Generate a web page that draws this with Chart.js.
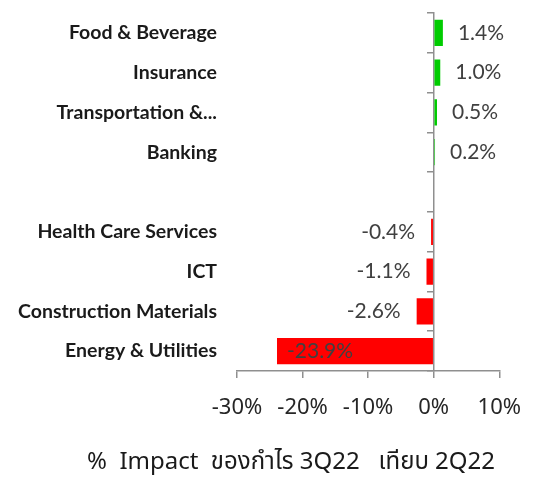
<!DOCTYPE html>
<html lang="th">
<head>
    <meta charset="UTF-8">
    <title>% Impact ของกำไร 3Q22 เทียบ 2Q22</title>
    <script src="https://cdn.jsdelivr.net/npm/chart.js"></script>
    <style>
        html, body {
            margin: 0;
            padding: 0;
            background: #ffffff;
        }
        #wrap {
            width: 538px;
            height: 484px;
        }
    </style>
</head>
<body>
    <div id="wrap"><canvas id="chart" width="538" height="484"></canvas></div>

    <script>
        // data
        const sectors = ['Food & Beverage', 'Insurance', 'Transportation &...', 'Banking', '',
                         'Health Care Services', 'ICT', 'Construction Materials', 'Energy & Utilities'];
        const impact = [1.4, 1.0, 0.5, 0.2, null, -0.4, -1.1, -2.6, -23.9];
        const xMin = -30;
        const xMax = 10;
        const xStep = 10;
        const chartTitle = '%  Impact  ของกำไร 3Q22   เทียบ 2Q22';

        const axisGray = '#8f8f8f';

        // value labels at the bar ends (Excel "outside end")
        const valueLabels = {
            id: 'valueLabels',
            afterDatasetsDraw(chart) {
                const ctx = chart.ctx;
                const area = chart.chartArea;
                const meta = chart.getDatasetMeta(0);
                ctx.save();
                ctx.font = '21px Lato';
                ctx.fillStyle = '#404040';
                ctx.textBaseline = 'middle';
                meta.data.forEach((bar, i) => {
                    const v = impact[i];
                    if (v === null) return;
                    const txt = v.toFixed(1) + '%';
                    const w = ctx.measureText(txt).width;
                    if (v >= 0) {
                        ctx.textAlign = 'left';
                        ctx.fillText(txt, bar.x + 15, bar.y);
                    } else if (bar.x - 16 - w > area.left) {
                        ctx.textAlign = 'right';
                        ctx.fillText(txt, bar.x - 16, bar.y);
                    } else {
                        // no room outside, goes inside the bar
                        ctx.textAlign = 'left';
                        ctx.fillText(txt, bar.x + 10, bar.y);
                    }
                });
                ctx.restore();
            }
        };

        // axis caption under the chart, a bit right of the canvas centre like the original
        const bottomCaption = {
            id: 'bottomCaption',
            afterDraw(chart) {
                const ctx = chart.ctx;
                ctx.save();
                ctx.font = "24px 'Noto Sans Thai', 'Noto Sans', 'DejaVu Sans', sans-serif";
                ctx.fillStyle = '#1a1a1a';
                ctx.textAlign = 'center';
                ctx.textBaseline = 'middle';
                ctx.fillText(chartTitle, 291, chart.chartArea.bottom + 93);
                ctx.restore();
            }
        };

        const ctx = document.getElementById('chart').getContext('2d');
        const chart = new Chart(ctx, {
            type: 'bar',
            data: {
                labels: sectors,
                datasets: [{
                    data: impact,
                    backgroundColor: impact.map(v => v >= 0 ? '#00cc00' : '#ff0000'),
                    borderWidth: 0,
                    categoryPercentage: 1,
                    barPercentage: 0.66
                }]
            },
            options: {
                indexAxis: 'y',
                responsive: false,
                animation: false,
                layout: {
                    padding: { left: 0, right: 34, top: 13, bottom: 53 }
                },
                plugins: {
                    legend: { display: false },
                    tooltip: { enabled: false }
                },
                scales: {
                    x: {
                        type: 'linear',
                        min: xMin,
                        max: xMax,
                        ticks: {
                            stepSize: xStep,
                            callback: v => v + '%',
                            color: '#262626',
                            font: { family: "'Noto Sans', sans-serif", size: 22 },
                            padding: 17
                        },
                        grid: {
                            drawOnChartArea: false,
                            tickLength: 7,
                            color: axisGray,
                            lineWidth: 1.5
                        },
                        border: { color: axisGray, width: 1.5 },
                        afterFit(s) { s.height = 60; }
                    },
                    y: {
                        type: 'category',
                        position: 'left',
                        grid: { display: false, drawTicks: false },
                        border: { display: false },
                        ticks: {
                            color: '#1a1a1a',
                            font: { family: 'Lato', size: 19.5, weight: 'bold' },
                            padding: 20
                        },
                        afterFit(s) {
                            s.width = 237;
                            s.paddingTop = 0;
                            s.paddingBottom = 0;
                        }
                    },
                    // axis line with tick marks crossing at 0%
                    y0: {
                        type: 'category',
                        position: { x: 0 },
                        offset: true,
                        grid: {
                            offset: true,
                            drawOnChartArea: false,
                            tickLength: 6,
                            color: axisGray,
                            lineWidth: 1.5
                        },
                        border: { color: axisGray, width: 1.5 },
                        ticks: { display: false }
                    }
                }
            },
            plugins: [valueLabels, bottomCaption]
        });
    </script>
</body>
</html>
